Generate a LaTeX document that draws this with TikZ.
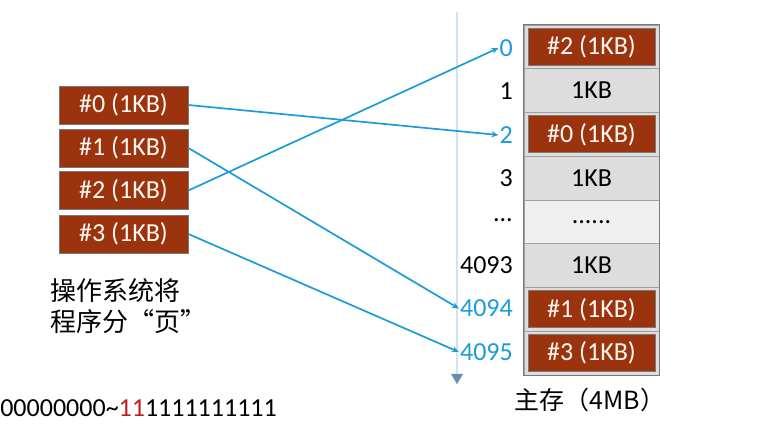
\documentclass[tikz,border=0pt]{standalone}
\usepackage{fontspec}
\setmainfont{Carlito}
\newfontfamily\cjk{Noto Sans CJK SC}
\usetikzlibrary{arrows.meta}
\definecolor{pagered}{RGB}{155,52,14}
\definecolor{pageborder}{RGB}{120,120,120}
\definecolor{cellgray}{RGB}{221,221,221}
\definecolor{celllight}{RGB}{240,240,240}
\definecolor{linkblue}{RGB}{27,155,215}
\definecolor{axisblue}{RGB}{210,226,242}
\definecolor{axishead}{RGB}{110,140,175}
\definecolor{bitred}{RGB}{190,30,30}
\tikzset{
  pagebox/.style={draw=pageborder, line width=0.8pt, fill=pagered, text=white!95!orange,
    minimum width=129pt, minimum height=38pt, inner sep=0pt, font=\fontsize{26}{29}\selectfont},
  cell/.style={draw=pageborder!70, line width=0.6pt, minimum width=135pt, minimum height=43.75pt,
    inner sep=0pt, font=\fontsize{26}{29}\selectfont},
  addr/.style={anchor=east, inner sep=1pt, font=\fontsize{26}{29}\selectfont},
  link/.style={draw=linkblue, line width=1.7pt, -{Stealth[length=7pt,width=6pt]}},
}
\begin{document}
\begin{tikzpicture}[x=1pt,y=-1pt]
\useasboundingbox (0,0) rectangle (758,427);
\clip (0,0) rectangle (758,427);
% axis
\coordinate (axtop) at (457,12);
\coordinate (axbot) at (457,384);
\draw[axisblue, line width=2pt] (axtop) -- (axbot);
\fill[axishead] (451,374) -- (463,374) -- (457,384) -- cycle;
% left pages
\node[pagebox] (p0) at (123.5,105) {\#0 (1KB)};
\node[pagebox] (p1) at (123.5,148) {\#1 (1KB)};
\node[pagebox] (p2) at (123.5,190.5) {\#2 (1KB)};
\node[pagebox] (p3) at (123.5,234) {\#3 (1KB)};
% memory
\node[cell, fill=cellgray] (c0) at (591.5,46.9) {};
\node[cell, fill=cellgray] (c1) at (591.5,90.6) {1KB};
\node[cell, fill=cellgray] (c2) at (591.5,134.4) {};
\node[cell, fill=cellgray] (c3) at (591.5,178.1) {1KB};
\node[cell, fill=celllight] (c4) at (591.5,221.9) {......};
\node[cell, fill=cellgray] (c5) at (591.5,265.6) {1KB};
\node[cell, fill=cellgray] (c6) at (591.5,309.4) {};
\node[cell, fill=cellgray] (c7) at (591.5,353.1) {};
\draw[pageborder, line width=1pt] (c0.north west) rectangle (c7.south east);
\node[pagebox, minimum width=127pt, minimum height=37pt] (m0) at (c0) {\#2 (1KB)};
\node[pagebox, minimum width=127pt, minimum height=37pt] (m2) at (c2) {\#0 (1KB)};
\node[pagebox, minimum width=127pt, minimum height=37pt] (m6) at (c6) {\#1 (1KB)};
\node[pagebox, minimum width=127pt, minimum height=37pt] (m7) at (c7) {\#3 (1KB)};
% addresses
\node[addr, text=linkblue] (a0) at (514,48) {0};
\node[addr] (a1) at (514,91.5) {1};
\node[addr, text=linkblue] (a2) at (514,135) {2};
\node[addr] (a3) at (514,178.5) {3};
\node[addr] (a4) at (514,220) {...};
\node[addr] (a5) at (514,265) {4093};
\node[addr, text=linkblue] (a6) at (514,308.5) {4094};
\node[addr, text=linkblue] (a7) at (514,352) {4095};
% links
\draw[link] (p0.east) -- (a2.west);
\draw[link] (p1.east) -- (a6.west);
\draw[link] (p2.east) -- (a0.west);
\draw[link] (p3.east) -- (a7.west);
% texts
\node[anchor=north west, align=left, inner sep=0pt, font=\cjk\fontsize{26}{31}\selectfont] (note) at (50,278) {操作系统将\\程序分“页”};
\node[anchor=east, inner sep=0pt, font=\fontsize{26}{29}\selectfont] (bits) at (277,408) {000000000000\textasciitilde{}\textcolor{bitred}{11}1111111111};
\node[inner sep=0pt, font=\cjk\fontsize{25}{28}\selectfont] (mem) at (590,400) {主存（4MB）};
\end{tikzpicture}
\end{document}
